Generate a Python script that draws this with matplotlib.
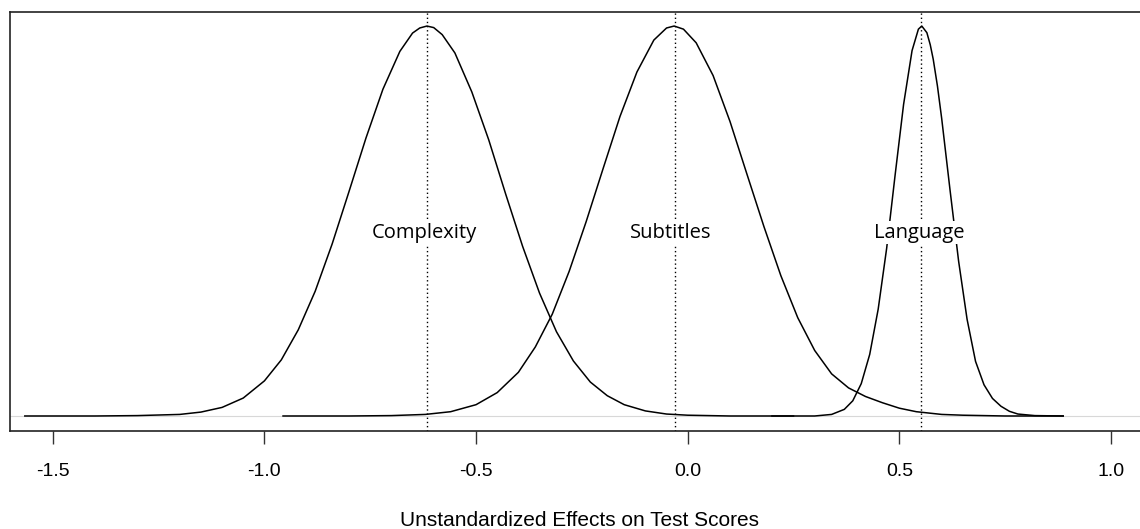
import matplotlib
matplotlib.use('Agg')
from matplotlib import pyplot as plt

# posterior density curves, heights scaled so the peak is about 1
complexity_x = [-1.566, -1.40, -1.30, -1.20, -1.15, -1.10, -1.05, -1.00, -0.96, -0.92,
                -0.88, -0.84, -0.80, -0.76, -0.72, -0.68, -0.65, -0.633, -0.616, -0.60,
                -0.58, -0.55, -0.51, -0.47, -0.43, -0.39, -0.35, -0.31, -0.27, -0.23,
                -0.19, -0.15, -0.10, -0.05, 0.00, 0.10, 0.25]
complexity_y = [0.0, 0.0, 0.001, 0.004, 0.010, 0.022, 0.046, 0.090, 0.144, 0.221,
                0.320, 0.441, 0.576, 0.713, 0.838, 0.935, 0.982, 0.995, 1.0, 0.996,
                0.978, 0.931, 0.831, 0.708, 0.569, 0.435, 0.315, 0.216, 0.141, 0.087,
                0.052, 0.029, 0.013, 0.005, 0.002, 0.0, 0.0]

subtitles_x = [-0.956, -0.80, -0.70, -0.62, -0.56, -0.50, -0.45, -0.40, -0.36, -0.32,
               -0.28, -0.24, -0.20, -0.16, -0.12, -0.08, -0.05, -0.032, -0.01, 0.02,
               0.06, 0.10, 0.14, 0.18, 0.22, 0.26, 0.30, 0.34, 0.38, 0.42,
               0.46, 0.50, 0.54, 0.60, 0.65, 0.75, 0.887]
subtitles_y = [0.0, 0.0, 0.001, 0.004, 0.011, 0.029, 0.060, 0.112, 0.177, 0.261,
               0.371, 0.498, 0.634, 0.768, 0.882, 0.964, 0.995, 1.0, 0.992, 0.957,
               0.873, 0.755, 0.620, 0.486, 0.360, 0.252, 0.168, 0.108, 0.072, 0.050,
               0.034, 0.020, 0.011, 0.004, 0.002, 0.0, 0.0]

language_x = [0.199, 0.30, 0.34, 0.37, 0.39, 0.41, 0.43, 0.45, 0.47, 0.49,
              0.51, 0.53, 0.545, 0.553, 0.565, 0.573, 0.58, 0.59, 0.60, 0.62,
              0.64, 0.66, 0.68, 0.70, 0.72, 0.74, 0.76, 0.78, 0.82, 0.887]
language_y = [0.0, 0.0, 0.004, 0.017, 0.039, 0.083, 0.158, 0.274, 0.430, 0.618,
              0.799, 0.937, 0.992, 1.0, 0.983, 0.952, 0.915, 0.846, 0.763, 0.577,
              0.397, 0.248, 0.140, 0.080, 0.045, 0.025, 0.012, 0.005, 0.001, 0.0]

# posterior means (dotted lines) and label positions
effect_names = ['Complexity', 'Subtitles', 'Language']
effect_means = [-0.617, -0.030, 0.550]
label_x = [-0.623, -0.040, 0.548]
label_y = 0.47

tick_values = [-1.5, -1.0, -0.5, 0.0, 0.5, 1.0]
tick_labels = ['-1.5', '-1.0', '-0.5', '0.0', '0.5', '1.0']


def main():
    fig = plt.figure(figsize=(11.4, 5.29), dpi=100)
    ax = fig.add_axes([10 / 1140, 98 / 529, 1150 / 1140, 419 / 529])

    ax.axhline(0, color='#d8d8d8', lw=0.8, zorder=1)

    for xs, ys in [(complexity_x, complexity_y), (subtitles_x, subtitles_y), (language_x, language_y)]:
        ax.plot(xs, ys, color='black', lw=1.1, zorder=3)

    for m in effect_means:
        ax.axvline(m, color='black', lw=1.0, linestyle=(0, (1, 2)), zorder=2)

    for name, lx in zip(effect_names, label_x):
        ax.text(lx, label_y, name, ha='center', va='center', fontsize=14.5,
                family='Open Sans', color='black', zorder=4,
                bbox=dict(facecolor='white', edgecolor='none', pad=1))

    # right edge of the frame falls just outside the picture
    ax.set_xlim(-1.601, -1.601 + 1150 / 423.3)
    ax.set_ylim(-0.0385, 1.036)

    ax.set_yticks([])
    ax.set_xticks(tick_values)
    ax.set_xticklabels(tick_labels, fontsize=14, family='Liberation Sans')
    ax.tick_params(axis='x', length=9, width=1.0, pad=14, color='#333333')
    for side in ['left', 'top', 'bottom', 'right']:
        ax.spines[side].set_linewidth(1.2)
        ax.spines[side].set_color('#222222')

    fig.text(580 / 1140, (529 - 520) / 529, 'Unstandardized Effects on Test Scores',
             ha='center', va='center', fontsize=15, family='Liberation Sans')

    fig.savefig('out.png', dpi=100)
    plt.close(fig)


if __name__ == '__main__':
    main()
